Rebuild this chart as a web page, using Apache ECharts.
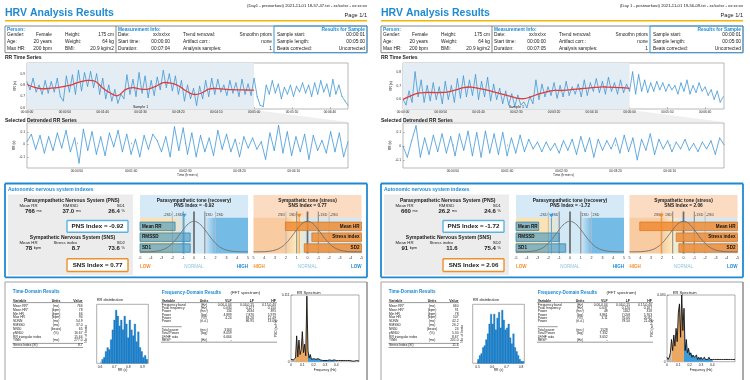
<!DOCTYPE html>
<html><head><meta charset="utf-8">
<script src="https://cdn.jsdelivr.net/npm/echarts@6/dist/echarts.min.js"></script>
<style>html,body{margin:0;padding:0;background:#fff}#c{width:750px;height:380px}</style>
</head><body><div id="c"></div>
<script>
// ================= DATA =================
const rrStep = 4; // seconds between RR samples
const rrLeft = [0.83,0.76,0.86,0.74,0.80,0.72,0.84,0.73,0.83,0.74,
 0.86,0.70,0.66,0.88,0.74,0.89,0.72,0.93,0.75,0.91,
 0.79,0.92,0.78,0.90,0.72,0.86,0.68,0.80,0.66,0.76,
 0.64,0.72,0.68,0.89,0.72,0.85,0.70,0.91,0.73,0.88,
 0.69,0.84,0.71,0.87,0.76,0.93,0.78,0.90,0.75,0.88,
 0.72,0.84,0.66,0.80,0.68,0.77,0.62,0.79,0.68,0.84,
 0.70,0.86,0.72,0.85,0.74,0.80,0.71,0.84,0.73,0.82,
 0.70,0.85,0.72,0.81,0.71,0.86,0.70,0.62,0.61,0.80,
 0.72,0.84,0.73,0.81,0.68,0.78,0.72,0.80,0.70,0.79,
 0.74,0.82,0.73,0.80,0.70,0.82,0.72,0.84,0.74,0.81,
 0.70,0.85,0.72,0.80,0.70,0.66,0.62];
const rrRight = [0.60,0.56,0.66,0.58,0.80,0.62,0.74,0.58,0.70,0.59,
 0.72,0.60,0.69,0.57,0.73,0.60,0.70,0.58,0.75,0.61,
 0.77,0.62,0.74,0.63,0.78,0.60,0.73,0.62,0.76,0.59,
 0.71,0.60,0.68,0.57,0.66,0.56,0.64,0.55,0.63,0.56,
 0.58,0.54,0.62,0.57,0.74,0.60,0.71,0.62,0.69,0.63,
 0.72,0.61,0.70,0.62,0.73,0.63,0.69,0.64,0.71,0.62,
 0.74,0.63,0.72,0.66,0.75,0.65,0.73,0.64,0.76,0.66,
 0.72,0.64,0.74,0.65,0.71,0.66,0.80,0.64,0.78,0.66,
 0.74,0.65,0.72,0.66,0.73,0.67,0.72,0.66,0.71,0.67,
 0.70,0.64,0.72,0.66,0.74,0.64,0.70,0.65,0.72,0.66,
 0.69,0.63,0.67,0.60,0.66,0.58,0.62];
const trendStep = 10;
const trendLeft = [0.806,0.78,0.768,0.772,0.778,0.79,0.805,0.83,0.843,0.835,
 0.775,0.73,0.706,0.76,0.778,0.765,0.765,0.79,0.822,0.818,
 0.795,0.75,0.718,0.728,0.765,0.77,0.765,0.76,0.758,0.757,0.755];
const trendRight = [0.60,0.625,0.645,0.65,0.65,0.65,0.655,0.67,0.685,0.69,
 0.68,0.67,0.655,0.64,0.625,0.61,0.605,0.62,0.64,0.655,
 0.665,0.665,0.67,0.675,0.68,0.685,0.69,0.69,0.688,0.685,0.68];
const detStart = 4, detStep = 4;
const detLeft = [0.02,0.08,-0.04,0.07,-0.07,0.06,-0.05,0.09,-0.03,0.11,
 -0.06,0.05,-0.15,0.12,-0.05,0.10,-0.08,0.06,-0.09,0.09,
 -0.02,0.11,-0.06,0.08,-0.08,0.04,-0.10,0.07,-0.04,0.08,
 0.03,-0.06,0.06,-0.10,0.14,-0.05,0.13,-0.08,0.09,-0.10,
 0.07,-0.06,0.05,-0.09,0.11,-0.04,0.08,-0.06,0.04,-0.10,
 0.06,-0.03,0.05,-0.04,0.02,-0.12,0.09,-0.05,0.15,-0.07,
 0.10,-0.09,0.06,-0.06,0.08,-0.12,0.07,-0.05,0.03,-0.07,
 0.10,-0.06,0.09,-0.10,0.02];
const detRight = [0.00,-0.08,0.04,0.15,-0.08,0.06,-0.06,0.08,-0.04,0.09,
 -0.05,0.07,-0.07,0.09,-0.03,0.11,-0.07,0.10,-0.08,0.11,
 -0.05,0.09,-0.06,0.10,-0.07,0.06,-0.05,0.08,-0.04,0.05,
 -0.02,0.03,-0.04,0.03,-0.03,0.02,-0.05,0.04,-0.03,0.05,
 -0.06,0.07,-0.04,0.06,-0.08,0.05,-0.03,0.04,-0.02,0.06,
 -0.05,0.08,-0.04,0.06,-0.10,0.05,-0.03,0.09,-0.06,0.05,
 -0.02,0.04,-0.04,0.03,-0.02,0.05,-0.03,0.02,-0.04,0.03,
 -0.02,0.04,-0.06,0.06,0.01];
const rrTicks = [0,50,100,150,200,250,300,350,400];
const detTicks = [50,100,150,200,250];

const pnsRows = ['', 'Mean RR', 'RMSSD', 'SD1'];
const snsRows = ['', 'Mean HR', 'Stress index', 'SD2'];
const pnsBarsLeft = [-1.75, -0.35, -0.35];
const snsBarsLeft = [2.05, -0.4, 0.3];
const pnsBarsRight = [-2.9, -1.0, -0.4];
const snsBarsRight = [4.05, 0.68, 0.43];
const pnsIndex = [-0.92, -1.72];
const snsIndex = [0.77, 2.06];
const sdLineValues = [-2, -1, 0, 1, 2];
const sdLabelValues = [-2, -1, 1, 2];
const bellX = [-5,-4.5,-4,-3.5,-3,-2.5,-2,-1.5,-1,-0.5,0,0.5,1,1.5,2,2.5,3,3.5,4,4.5,5];
const bellY = [0.000,0.001,0.004,0.015,0.041,0.099,0.203,0.355,0.530,0.674,0.730,0.674,0.530,0.355,0.203,0.099,0.041,0.015,0.004,0.001,0.000];

const histLeftStart = 0.612, histLeftWidth = 0.012;
const histLeft = [2,3,6,8,7,12,17,22,27,24,19,22,17,24,20,13,22,17,14,20,11,16,8,6,3,4,2];
const histRightStart = 0.5, histRightWidth = 0.011;
const histRight = [2,4,5,8,9,12,15,20,25,20,25,17,23,26,18,27,22,17,18,20,13,10,15,8,6,4,2,1,1];

const psdStep = 0.01;
const psdLeft = [0.004,0.002,0.003,0.004,0.006,0.043,0.008,0.036,0.012,0.020,
 0.050,0.015,0.029,0.010,0.109,0.018,0.006,0.012,0.004,0.003,
 0.005,0.002,0.004,0.003,0.005,0.002,0.003,0.004,0.002,0.003,
 0.002,0.003,0.002,0.002,0.003,0.002,0.002,0.002,0.003,0.002,
 0.002,0.002,0.002,0.001,0.002,0.001,0.002,0.001,0.002,0.001,
 0.002,0.001,0.002,0.001,0.001,0.002,0.001,0.001,0.002,0.001,0.001];
const psdRight = [0.002,0.001,0.002,0.004,0.010,0.005,0.012,0.007,0.015,0.009,
 0.022,0.026,0.011,0.030,0.014,0.024,0.005,0.010,0.004,0.006,
 0.003,0.004,0.002,0.003,0.002,0.002,0.003,0.001,0.002,0.001,
 0.002,0.001,0.001,0.002,0.001,0.001,0.001,0.002,0.001,0.001,
 0.001,0.001,0.001,0.001,0.001,0.001,0.001,0.001,0.001,0.001,
 0.001,0.001,0.001,0.001,0.001,0.001,0.001,0.001,0.001,0.001,0.001];
const psdMax = [0.111, 0.030];
const bandEdges = [0, 0.04, 0.15, 0.40, 0.60];

// text content
const fileNames = ['(Day1 - preworkout) 2021-11-01 18-57-47.txt - xx/xx/xx - xx:xx:xx',
                   '(Day 1 - postworkout) 2021-11-01 19-56-09.txt - xx/xx/xx - xx:xx:xx'];
const personLabels = ['Gender:', 'Age:', 'Max HR:'];
const personValues = ['Female', '20 years', '200 bpm'];
const bodyLabels = ['Height:', 'Weight:', 'BMI:'];
const bodyValues = ['175 cm', '64 kg', '20.9 kg/m2'];
const measLabels = ['Date:', 'Start time:', 'Duration:'];
const measValuesLeft = ['xx/xx/xx', '00:00:00', '00:07:04'];
const measValuesRight = ['xx/xx/xx', '00:00:00', '00:07:05'];
const procLabels = ['Trend removal:', 'Artifact corr.:', 'Analysis samples:'];
const procValues = ['Smoothn priors', 'none', '1'];
const sampleLabels = ['Sample start:', 'Sample length:', 'Beats corrected:'];
const sampleValues = ['00:00:01', '00:05:00', 'Uncorrected'];
const ansLeft = ['766', '37.0', '26.4', '78', '8.7', '73.6'];
const ansRight = ['660', '26.2', '24.6', '91', '11.6', '75.4'];

const tdVars = ['Mean RR*', 'Mean HR*', 'Min HR', 'Max HR', 'SDNN', 'RMSSD', 'NN50', 'pNN50', 'RR triangular index', 'TINN', 'Stress Index (SI)'];
const tdUnits = ['(ms)', '(bpm)', '(bpm)', '(bpm)', '(ms)', '(ms)', '(beats)', '(%)', '', '(ms)', ''];
const tdLeft = ['766', '78', '66', '94', '54.9', '37.0', '65', '16.67', '15.64', '277.0', '8.7'];
const tdRight = ['660', '91', '78', '107', '42.2', '26.2', '24', '5.30', '8.67', '201.0', '11.6'];

const fdVars = ['Frequency band', 'Peak frequency', 'Power', 'Power', 'Power', 'Power', 'Total power', 'Total Power', 'LF/HF ratio', 'RESP'];
const fdUnits = ['(Hz)', '(Hz)', '(ms²)', '(log)', '(%)', '(n.u.)', '(ms²)', '(log)', '', '(Hz)'];
const fdLeftVLF = ['0.00-0.04', '0.030', '134', '4.899', '4.24', '', '3163', '8.059', '6.664', '-'];
const fdLeftLF = ['0.04-0.15', '0.127', '2634', '7.876', '83.26', '86.95'];
const fdLeftHF = ['0.15-0.40', '0.150', '395', '5.979', '12.49', '13.05'];
const fdRightVLF = ['0.00-0.04', '0.037', '48', '3.861', '3.11', '', '1528', '7.332', '3.652', '-'];
const fdRightLF = ['0.04-0.15', '0.120', '1162', '7.058', '76.06', '78.50'];
const fdRightHF = ['0.15-0.40', '0.167', '318', '5.763', '20.82', '21.49'];

// ================= STYLE =================
const FONT = '"Liberation Sans", Arial, Helvetica, sans-serif';
const BLUE = '#1f8ad2', ORANGE = '#f0902a', GOLD = '#f2b600', TXT = '#1a1a1a';
const RRC = '#3f97d6';
const pnsZones = [[-5,-2,'#fbe2b4','#fbe2b4'],[-2,-1,'#fbe2b4','#d2e8f5'],[-1,1,'#d2e8f5','#d2e8f5'],[1,2,'#d2e8f5','#74bbe6'],[2,5,'#74bbe6','#74bbe6']];
const snsZones = [[5,2,'#f9cba0','#f9cba0'],[2,1,'#f9cba0','#fbecc0'],[1,0,'#fbecc0','#d2e8f5'],[0,-5,'#d2e8f5','#d2e8f5']];
const sdLineStyles = [['#b4b4b4',0.8],['#8a8a8a',1.1],['#6a6a6a',1.7],['#8a8a8a',1.1],['#b4b4b4',0.8]];
const bandFills = ['#b9b9b9', '#eba862', '#3b9bdc', null];

// ================= BUILD =================
const pad2 = n => String(n).padStart(2, '0');
const hms = v => pad2(Math.floor(v / 3600)) + ':' + pad2(Math.floor((v % 3600) / 60)) + ':' + pad2(Math.round(v % 60));

const G = [], grids = [], xAxes = [], yAxes = [], series = [];
function T(x, y, s, fs, o) {
  o = o || {};
  const st = {text: s, fontSize: fs, fontWeight: o.b ? 'bold' : 'normal', fill: o.c || TXT, fontFamily: FONT, align: o.a || 'left', verticalAlign: 'middle'};
  if (o.rich) st.rich = o.rich;
  return {type: 'text', x: x, y: y, z: 50, silent: true, style: st};
}
function F(x, y, w, h, c) {
  return {type: 'rect', z: 0, silent: true, shape: {x: x, y: y, width: w, height: h}, style: {fill: c}};
}
function L(x1, y1, x2, y2, c, w) {
  return {type: 'line', z: 5, silent: true, shape: {x1: x1, y1: y1, x2: x2, y2: y2}, style: {stroke: c, lineWidth: w}};
}
function Box(x, y, w, h, c, lw) {
  return [L(x, y, x + w, y, c, lw), L(x + w, y, x + w, y + h, c, lw), L(x + w, y + h, x, y + h, c, lw), L(x, y + h, x, y, c, lw)];
}
function addGrid(l, t, w, h, border) {
  grids.push({left: l, top: t, width: w, height: h, containLabel: false, outerBoundsMode: 'none',
    show: !!border, borderColor: border || 'transparent', borderWidth: 0.6, backgroundColor: 'transparent'});
  return grids.length - 1;
}
function addX(o) { xAxes.push(o); return xAxes.length - 1; }
function addY(o) { yAxes.push(o); return yAxes.length - 1; }
function vAxis(g, min, max, ticks, fmt, fs, margin, extra) {
  return Object.assign({type: 'value', gridIndex: g, min: min, max: max,
    axisLine: {show: false}, splitLine: {show: false},
    axisTick: {show: true, inside: true, length: 1.8, lineStyle: {color: '#777', width: 0.5}, customValues: ticks},
    axisLabel: {show: true, customValues: ticks, formatter: fmt, fontSize: fs, color: '#222', fontFamily: FONT, margin: margin}}, extra || {});
}
function nm(name, gap) {
  return {name: name, nameLocation: 'middle', nameGap: gap, nameTextStyle: {fontSize: 3.3, color: '#222', fontFamily: FONT}};
}
const fmt1 = v => (Math.abs(v) < 1e-9 ? '0' : v.toFixed(1));

function segRender(color, width) {
  return function (params, api) {
    const p0 = api.coord([api.value(0), api.value(1)]);
    const p1 = api.coord([api.value(2), api.value(3)]);
    return {type: 'line', shape: {x1: p0[0], y1: p0[1], x2: p1[0], y2: p1[1]}, style: {stroke: color, lineWidth: width, lineCap: 'round'}};
  };
}
function segments(values, t0, step) {
  const out = [];
  for (let i = 0; i < values.length - 1; i++) out.push([t0 + i * step, values[i], t0 + (i + 1) * step, values[i + 1]]);
  return out;
}
function smoothRender(values, t0, step, color, width) {
  return function (params, api) {
    if (params.dataIndex !== 0) return null;
    const pts = values.map((v, i) => api.coord([t0 + i * step, v]));
    return {type: 'polyline', shape: {points: pts, smooth: 0.35}, style: {stroke: color, lineWidth: width, fill: null}};
  };
}
function shadeRender(color) {
  return function (params, api) {
    const cs = params.coordSys;
    const a = api.coord([api.value(0), 0])[0], b = api.coord([api.value(1), 0])[0];
    return {type: 'rect', shape: {x: a, y: cs.y, width: b - a, height: cs.height}, style: {fill: color}};
  };
}
function zonesRender(zs) {
  return function (params, api) {
    const cs = params.coordSys;
    const band = api.size([0, 1])[1];
    const top = cs.y + band * 0.72;
    const a = api.coord([api.value(0), 1])[0], b = api.coord([api.value(1), 1])[0];
    const z = zs[params.dataIndex];
    let c0 = z[2], c1 = z[3], left = a, right = b;
    if (a > b) { left = b; right = a; const t = c0; c0 = c1; c1 = t; }
    const fill = c0 === c1 ? c0 : new echarts.graphic.LinearGradient(0, 0, 1, 0, [{offset: 0, color: c0}, {offset: 1, color: c1}]);
    return {type: 'rect', shape: {x: left, y: top, width: right - left, height: cs.y + cs.height - top}, style: {fill: fill}};
  };
}
function vlinesRender() {
  return function (params, api) {
    const cs = params.coordSys;
    const x = api.coord([api.value(0), 0])[0];
    const s = sdLineStyles[params.dataIndex];
    return {type: 'line', shape: {x1: x, y1: cs.y + 1.5, x2: x, y2: cs.y + cs.height}, style: {stroke: s[0], lineWidth: s[1]}};
  };
}
function barsRender(names, fill, stroke, alignRight) {
  return function (params, api) {
    const v = api.value(0), r = api.value(1);
    const c = api.coord([v, r]), e = api.coord([-5, r]);
    const band = api.size([0, 1])[1];
    const h = band * 0.78;
    const left = Math.min(c[0], e[0]), w = Math.abs(c[0] - e[0]);
    return {type: 'group', children: [
      {type: 'rect', shape: {x: left, y: c[1] - h / 2, width: w, height: h}, style: {fill: fill, stroke: stroke, lineWidth: 0.7}},
      {type: 'text', x: alignRight ? left + w - 2 : left + 2, y: c[1], style: {text: names[r], fontSize: 4.6, fontWeight: 'bold', fill: '#111', align: alignRight ? 'right' : 'left', verticalAlign: 'middle', fontFamily: FONT}}
    ]};
  };
}
function sdRender(labels) {
  return function (params, api) {
    const p = api.coord([api.value(0), 0]);
    const c0 = api.coord([0, 0])[0];
    const lft = p[0] < c0;
    return {type: 'text', x: lft ? p[0] - 0.8 : p[0] + 0.8, y: p[1] - 0.8,
      style: {text: labels[params.dataIndex], fontSize: 3.6, fill: '#444', align: lft ? 'right' : 'left', verticalAlign: 'middle', fontFamily: FONT}};
  };
}
function markerRender(color) {
  return function (params, api) {
    const cs = params.coordSys;
    const band = api.size([0, 1])[1];
    const x = api.coord([api.value(0), 0])[0];
    const y0 = cs.y + band * 0.72;
    return {type: 'group', children: [
      {type: 'line', shape: {x1: x, y1: y0, x2: x, y2: cs.y + cs.height}, style: {stroke: color, lineWidth: 0.9}},
      {type: 'polygon', shape: {points: [[x - 2.5, y0 - 4], [x + 2.5, y0 - 4], [x, y0]]}, style: {fill: color}}
    ]};
  };
}
function histRender(w) {
  return function (params, api) {
    const x = api.value(0), c = api.value(1);
    const p0 = api.coord([x, 0]), p1 = api.coord([x + w, c]);
    return {type: 'rect', shape: {x: p0[0], y: p1[1], width: p1[0] - p0[0], height: p0[1] - p1[1]}, style: {fill: '#1b83d0', stroke: '#1466a6', lineWidth: 0.25}};
  };
}

function toneChart(left, rows, bars, idx, zones, inverse, barFill, barStroke, markColor) {
  const g = addGrid(left, 210, 108, 43.5, null);
  const xa = addX({type: 'value', gridIndex: g, min: -5, max: 5, interval: 1, inverse: inverse,
    axisLine: {show: false}, axisTick: {show: false}, splitLine: {show: false},
    axisLabel: {fontSize: 3.6, color: '#333', margin: 2.6, fontFamily: FONT}});
  const yc = addY({type: 'category', gridIndex: g, data: rows, inverse: true, show: false});
  const yv = addY({type: 'value', gridIndex: g, min: -0.04, max: 1, show: false});
  series.push({type: 'custom', xAxisIndex: xa, yAxisIndex: yc, renderItem: zonesRender(zones), encode: {x: [0, 1], y: 2}, data: zones.map(z => [z[0], z[1], 1]), z: 1, silent: true});
  series.push({type: 'custom', xAxisIndex: xa, yAxisIndex: yc, renderItem: vlinesRender(), encode: {x: 0, y: 1}, data: sdLineValues.map(v => [v, 0]), z: 2, silent: true});
  series.push({type: 'custom', xAxisIndex: xa, yAxisIndex: yc, renderItem: barsRender(rows, barFill, barStroke, inverse), encode: {x: 0, y: 1}, data: bars.map((v, i) => [v, i + 1]), z: 3, silent: true});
  series.push({type: 'line', xAxisIndex: xa, yAxisIndex: yv, data: bellX.map((x, i) => [x, bellY[i]]), smooth: 0.4, symbol: 'none', lineStyle: {color: '#707070', width: 0.9}, z: 4, silent: true});
  const sdl = sdLabelValues.map(v => v + 'SD');
  series.push({type: 'custom', xAxisIndex: xa, yAxisIndex: yc, renderItem: sdRender(sdl), encode: {x: 0, y: 1}, data: sdLabelValues.map(v => [v, 0]), z: 5, silent: true});
  series.push({type: 'custom', xAxisIndex: xa, yAxisIndex: yc, renderItem: markerRender(markColor), encode: {x: 0, y: 1}, data: [[idx, 0]], z: 6, silent: true});
}

function buildPanel(k, dx, P) {
  const X = v => v + dx;
  G.push(T(X(5), 12.8, 'HRV Analysis Results', 10.5, {b: 1, c: BLUE}));
  G.push(T(X(367), 5.8, fileNames[k], 4.2, {a: 'right'}));
  G.push(T(X(367), 15.3, 'Page 1/1', 5.6, {a: 'right'}));
  G.push(L(X(5), 20.8, X(367), 20.8, GOLD, 1.6));
  G.push(...Box(X(5), 26, 362, 26.7, '#555', 0.7));
  G.push(L(X(116), 26, X(116), 52.7, '#555', 0.7));
  G.push(...Box(X(274), 26, 93, 26.7, '#3b98d6', 1));
  G.push(T(X(7), 29.6, 'Person:', 4.8, {b: 1, c: BLUE}));
  G.push(T(X(118), 29.6, 'Measurement Info:', 4.8, {b: 1, c: BLUE}));
  G.push(T(X(365), 29.6, 'Results for Sample', 4.8, {b: 1, c: BLUE, a: 'right'}));
  const ry = [35, 41.7, 48.3];
  for (let i = 0; i < 3; i++) {
    G.push(T(X(7), ry[i], personLabels[i], 4.8));
    G.push(T(X(52), ry[i], personValues[i], 4.8, {a: 'right'}));
    G.push(T(X(65), ry[i], bodyLabels[i], 4.8));
    G.push(T(X(114), ry[i], bodyValues[i], 4.8, {a: 'right'}));
    G.push(T(X(118), ry[i], measLabels[i], 4.8));
    G.push(T(X(170), ry[i], P.meas[i], 4.8, {a: 'right'}));
    G.push(T(X(183), ry[i], procLabels[i], 4.8));
    G.push(T(X(272), ry[i], procValues[i], 4.8, {a: 'right'}));
    G.push(T(X(277), ry[i], sampleLabels[i], 4.8));
    G.push(T(X(365), ry[i], sampleValues[i], 4.8, {a: 'right'}));
  }
  G.push(T(X(5), 57.8, 'RR Time Series', 5, {b: 1}));
  G.push({type: 'polygon', z: 0, silent: true, shape: {points: [[X(27), 110], [X(254), 110], [X(348), 122], [X(27), 122]]}, style: {fill: '#efefef'}});
  G.push(T(X(5), 120.2, 'Selected Detrended RR Series', 5, {b: 1}));

  let g = addGrid(X(27), 63, 321, 46, '#8a8a8a');
  let xa = addX(vAxis(g, 0, P.rrEnd, rrTicks, hms, 3.2, 1.3));
  let ya = addY(vAxis(g, P.rrY[0], P.rrY[1], P.rrYT, fmt1, 3.2, 2, nm('RR (s)', 8.6)));
  series.push({type: 'custom', xAxisIndex: xa, yAxisIndex: ya, renderItem: shadeRender('#e4edf3'), encode: {x: [0, 1]}, data: [[0, 300]], z: 1, silent: true});
  series.push({type: 'custom', xAxisIndex: xa, yAxisIndex: ya, renderItem: segRender(RRC, 0.8), encode: {x: [0, 2], y: [1, 3]},
    data: segments(P.rr, 0, rrStep), z: 3, silent: true});
  series.push({type: 'custom', xAxisIndex: xa, yAxisIndex: ya, renderItem: smoothRender(P.trend, 0, trendStep, '#e53a3a', 1.3), encode: {x: 0, y: 1},
    data: P.trend.map((v, i) => [i * trendStep, v]), z: 4, silent: true});
  G.push(T(X(27 + 321 * 150 / P.rrEnd), 107.2, 'Sample 1', 3.6, {a: 'center'}));

  g = addGrid(X(27), 123, 321, 45, '#8a8a8a');
  xa = addX(vAxis(g, 4, 300, detTicks, hms, 3.2, 2, nm('Time (h:min:s)', 5.3)));
  ya = addY(vAxis(g, P.detY[0], P.detY[1], [-0.1, 0, 0.1], fmt1, 3.2, 2, nm('RR (s)', 9.5)));
  series.push({type: 'custom', xAxisIndex: xa, yAxisIndex: ya, renderItem: segRender(RRC, 0.8), encode: {x: [0, 2], y: [1, 3]},
    data: segments(P.det, detStart, detStep), z: 3, silent: true});

  G.push(...Box(X(5), 183.5, 362, 93.8, BLUE, 1.8));
  G.push(T(X(8), 189.3, 'Autonomic nervous system indexes', 5, {b: 1, c: BLUE}));
  G.push(F(X(8), 194.5, 125, 80.5, '#ececec'));
  const rich = {b: {fontSize: 6, fontWeight: 'bold', fill: TXT, fontFamily: FONT}, s: {fontSize: 3.8, fill: TXT, fontFamily: FONT}};
  const a = P.ans;
  G.push(T(X(71.7), 200.7, 'Parasympathetic Nervous System (PNS)', 5, {b: 1, a: 'center'}));
  G.push(T(X(28.5), 205.8, 'Mean RR', 4.3, {a: 'center'}));
  G.push(T(X(70.5), 205.8, 'RMSSD', 4.3, {a: 'center'}));
  G.push(T(X(125), 205.8, 'SD1', 4.3, {a: 'right'}));
  G.push(T(X(33.3), 211, '{b|' + a[0] + '} {s|ms}', 6, {a: 'center', rich: rich}));
  G.push(T(X(71.7), 211, '{b|' + a[1] + '} {s|ms}', 6, {a: 'center', rich: rich}));
  G.push(T(X(125), 211, '{b|' + a[2] + '} {s|%}', 6, {a: 'right', rich: rich}));
  G.push(F(X(67), 220.5, 61, 11.7, '#ffffff'));
  G.push(...Box(X(67), 220.5, 61, 11.7, '#5db3e3', 1.4));
  G.push(T(X(97.5), 226.4, 'PNS Index = ' + pnsIndex[k].toFixed(2), 6.2, {b: 1, a: 'center'}));
  G.push(T(X(72.5), 238, 'Sympathetic Nervous System (SNS)', 5, {b: 1, a: 'center'}));
  G.push(T(X(28.5), 242.8, 'Mean HR', 4.3, {a: 'center'}));
  G.push(T(X(65.3), 242.8, 'Stress index', 4.3, {a: 'center'}));
  G.push(T(X(125), 242.8, 'SD2', 4.3, {a: 'right'}));
  G.push(T(X(33.3), 248, '{b|' + a[3] + '} {s|bpm}', 6, {a: 'center', rich: rich}));
  G.push(T(X(76), 248, '{b|' + a[4] + '}', 6, {a: 'center', rich: rich}));
  G.push(T(X(125), 248, '{b|' + a[5] + '} {s|%}', 6, {a: 'right', rich: rich}));
  G.push(F(X(67), 258.7, 61, 12.8, '#ffffff'));
  G.push(...Box(X(67), 258.7, 61, 12.8, ORANGE, 1.4));
  G.push(T(X(97.5), 265.1, 'SNS Index = ' + snsIndex[k].toFixed(2), 6.2, {b: 1, a: 'center'}));

  G.push(F(X(140), 195, 108, 23, '#d5eaf6'));
  G.push(F(X(253.5), 195, 108, 23, '#fbdcc2'));
  G.push(T(X(194), 200.8, 'Parasympathetic tone (recovery)', 4.8, {b: 1, a: 'center'}));
  G.push(T(X(194), 205.9, 'PNS Index = ' + pnsIndex[k].toFixed(2), 4.8, {b: 1, a: 'center'}));
  G.push(T(X(307.5), 200.8, 'Sympathetic tone (stress)', 4.8, {b: 1, a: 'center'}));
  G.push(T(X(307.5), 205.9, 'SNS Index = ' + snsIndex[k].toFixed(2), 4.8, {b: 1, a: 'center'}));
  G.push(T(X(140), 267.2, 'LOW', 4.5, {b: 1, c: ORANGE}));
  G.push(T(X(194), 267.2, 'NORMAL', 4.5, {c: '#8ec3df', a: 'center'}));
  G.push(T(X(248), 267.2, 'HIGH', 4.5, {b: 1, c: BLUE, a: 'right'}));
  G.push(T(X(253.5), 267.2, 'HIGH', 4.5, {b: 1, c: ORANGE}));
  G.push(T(X(307.5), 267.2, 'NORMAL', 4.5, {c: '#8ec3df', a: 'center'}));
  G.push(T(X(361.5), 267.2, 'LOW', 4.5, {b: 1, c: BLUE, a: 'right'}));

  toneChart(X(140), pnsRows, P.pnsBars, pnsIndex[k], pnsZones, false, 'rgba(62,150,192,0.6)', '#2f7fa8', '#3d9fe0');
  toneChart(X(253.5), snsRows, P.snsBars, snsIndex[k], snsZones, true, 'rgba(240,140,52,0.85)', '#d27420', '#f28a1e');

  G.push(L(X(5), 282, X(367), 282, '#8a8a8a', 0.8));
  G.push(L(X(5), 282, X(5), 380, '#8a8a8a', 0.8));
  G.push(L(X(367), 282, X(367), 380, '#555', 1));
  G.push(T(X(12.7), 291.8, 'Time-Domain Results', 4.6, {b: 1, c: BLUE}));
  G.push(T(X(13), 300.7, 'Variable', 3.5, {b: 1}));
  G.push(T(X(56), 300.7, 'Units', 3.5, {b: 1, a: 'center'}));
  G.push(T(X(82.5), 300.7, 'Value', 3.5, {b: 1, a: 'right'}));
  G.push(L(X(12.5), 302.6, X(83), 302.6, '#333', 0.5));
  for (let i = 0; i < 11; i++) {
    const y = i < 10 ? 306.1 + i * 3.82 : 345.4;
    G.push(T(X(13), y, tdVars[i], 3.3));
    G.push(T(X(56), y, tdUnits[i], 3.3, {a: 'center'}));
    G.push(T(X(82.5), y, P.td[i], 3.3, {a: 'right'}));
  }
  G.push(L(X(12.5), 343.4, X(83), 343.4, '#333', 0.5));
  G.push(L(X(12.5), 347.5, X(83), 347.5, '#333', 0.5));

  G.push(T(X(96.7), 300.2, 'RR distribution', 4, {}));
  G.push(T(X(296.7), 292.7, 'RR Spectrum', 4, {}));

  G.push(T(X(161.7), 292.7, 'Frequency-Domain Results', 4.6, {b: 1, c: BLUE}));
  G.push(T(X(230.5), 292.7, '(FFT spectrum)', 4.3, {}));
  G.push(T(X(161.7), 300.7, 'Variable', 3.5, {b: 1}));
  G.push(T(X(204), 300.7, 'Units', 3.5, {b: 1, a: 'center'}));
  G.push(T(X(231.7), 300.7, 'VLF', 3.5, {b: 1, a: 'right'}));
  G.push(T(X(254), 300.7, 'LF', 3.5, {b: 1, a: 'right'}));
  G.push(T(X(276), 300.7, 'HF', 3.5, {b: 1, a: 'right'}));
  G.push(L(X(161), 302.6, X(277), 302.6, '#333', 0.5));
  for (let i = 0; i < 10; i++) {
    const y = i < 6 ? 304.8 + i * 3.33 : 330 + (i - 6) * 3.33;
    G.push(T(X(161.7), y, fdVars[i], 3.3));
    G.push(T(X(204), y, fdUnits[i], 3.3, {a: 'center'}));
    G.push(T(X(231.7), y, P.vlf[i], 3.3, {a: 'right'}));
    if (i < 6) {
      G.push(T(X(254), y, P.lf[i], 3.3, {a: 'right'}));
      G.push(T(X(276), y, P.hf[i], 3.3, {a: 'right'}));
    }
  }
  G.push(L(X(161.7), 326.7, X(181.7), 326.7, '#333', 0.5));
  G.push(L(X(161), 342.2, X(277), 342.2, '#333', 0.5));

  g = addGrid(X(96.7), 304.3, 51.6, 59, '#777');
  xa = addX(vAxis(g, P.hx[0], P.hx[1], P.hxt, fmt1, 3.3, 1.8, nm('RR (s)', 5.5)));
  ya = addY({type: 'value', gridIndex: g, min: 0, max: 30, axisLabel: {show: false}, axisTick: {show: false}, splitLine: {show: false}, axisLine: {show: false},
    name: 'Nbr of beats', nameLocation: 'middle', nameGap: 8.8, nameTextStyle: {fontSize: 3.3, color: '#222', fontFamily: FONT}});
  series.push({type: 'custom', xAxisIndex: xa, yAxisIndex: ya, renderItem: histRender(P.hw), encode: {x: 0, y: 1},
    data: P.hist.map((c, i) => [P.hs + i * P.hw, c]), z: 3, silent: true});

  g = addGrid(X(291), 295, 68, 66.7, '#777');
  xa = addX(vAxis(g, 0, 0.6, [0, 0.1, 0.2, 0.3, 0.4], fmt1, 3.3, 2.2, nm('Frequency (Hz)', 6.6)));
  const mx = psdMax[k];
  ya = addY(vAxis(g, 0, mx, [0, mx], v => (v < 1e-9 ? '0' : v.toFixed(3)), 3.3, 1.5, nm('PSD (s²/Hz)', 4)));
  const pts = P.psd.map((v, i) => [Math.round(i * psdStep * 100) / 100, v]);
  for (let j = 0; j < 4; j++) {
    const lo = bandEdges[j], hi = bandEdges[j + 1];
    const seg = pts.filter(p => p[0] >= lo - 1e-9 && p[0] <= hi + 1e-9);
    const s = {type: 'line', xAxisIndex: xa, yAxisIndex: ya, data: seg, symbol: 'none', lineStyle: {color: '#111', width: 0.9}, z: 3, silent: true};
    if (bandFills[j]) s.areaStyle = {color: bandFills[j], opacity: 1};
    series.push(s);
  }
}

buildPanel(0, 0, {meas: measValuesLeft, rr: rrLeft, trend: trendLeft, det: detLeft, rrEnd: 424, rrY: [0.588, 0.997], rrYT: [0.6, 0.7, 0.8, 0.9],
  detY: [-0.19, 0.17], ans: ansLeft, pnsBars: pnsBarsLeft, snsBars: snsBarsLeft, td: tdLeft,
  vlf: fdLeftVLF, lf: fdLeftLF, hf: fdLeftHF, hist: histLeft, hs: histLeftStart, hw: histLeftWidth, hx: [0.577, 0.94], hxt: [0.6, 0.7, 0.8, 0.9], psd: psdLeft});
buildPanel(1, 376, {meas: measValuesRight, rr: rrRight, trend: trendRight, det: detRight, rrEnd: 425, rrY: [0.53, 0.865], rrYT: [0.6, 0.7, 0.8],
  detY: [-0.16, 0.17], ans: ansRight, pnsBars: pnsBarsRight, snsBars: snsBarsRight, td: tdRight,
  vlf: fdRightVLF, lf: fdRightLF, hf: fdRightHF, hist: histRight, hs: histRightStart, hw: histRightWidth, hx: [0.467, 0.822], hxt: [0.5, 0.6, 0.7, 0.8], psd: psdRight});

const chart = echarts.init(document.getElementById('c'), null, {renderer: 'canvas'});
chart.setOption({
  animation: false,
  backgroundColor: '#ffffff',
  textStyle: {fontFamily: FONT},
  grid: grids, xAxis: xAxes, yAxis: yAxes, series: series,
  graphic: {elements: G}
});
</script></body></html>
